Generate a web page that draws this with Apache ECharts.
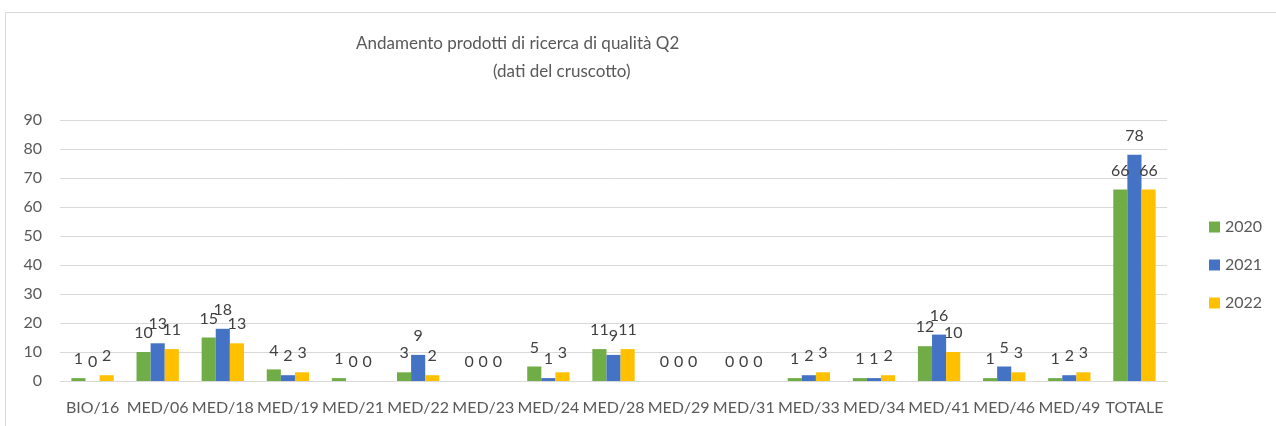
<!DOCTYPE html>
<html>
<head>
<meta charset="utf-8">
<script src="https://cdn.jsdelivr.net/npm/echarts@6/dist/echarts.min.js"></script>
<style>
    html, body { margin: 0; padding: 0; background: #fff; }
    #main { width: 1276px; height: 426px; }
</style>
</head>
<body>
<div id="main"></div>
<script>
var categories = ['BIO/16', 'MED/06', 'MED/18', 'MED/19', 'MED/21', 'MED/22', 'MED/23', 'MED/24', 'MED/28',
    'MED/29', 'MED/31', 'MED/33', 'MED/34', 'MED/41', 'MED/46', 'MED/49', 'TOTALE'];
var years = ['2020', '2021', '2022'];
var values2020 = [1, 10, 15, 4, 1, 3, 0, 5, 11, 0, 0, 1, 1, 12, 1, 1, 66];
var values2021 = [0, 13, 18, 2, 0, 9, 0, 1, 9, 0, 0, 2, 1, 16, 5, 2, 78];
var values2022 = [2, 11, 13, 3, 0, 2, 0, 3, 11, 0, 0, 3, 2, 10, 3, 3, 66];
var colors = ['#70AD47', '#4472C4', '#FFC000'];

var font = 'Lato, "Noto Sans", sans-serif';

var chart = echarts.init(document.getElementById('main'));

//一个系列
function makeSeries(name, data, i) {
    return {
        name: name,
        type: 'bar',
        data: data,
        barGap: 0,
        barCategoryGap: '35%',
        itemStyle: { color: colors[i] },
        label: {
            show: true,
            position: 'top',
            distance: 11,
            color: '#404040',
            fontSize: 16,
            fontFamily: font
        }
    };
}

var option = {
    animation: false,
    textStyle: { fontFamily: font },
    title: [
        {
            text: 'Andamento prodotti di ricerca di qualità Q2',
            left: 351,
            top: 30,
            textStyle: { color: '#595959', fontSize: 17, fontWeight: 'normal', fontFamily: font }
        },
        {
            text: '(dati del cruscotto)',
            left: 488,
            top: 58,
            textStyle: { color: '#595959', fontSize: 17, fontWeight: 'normal', fontFamily: font }
        }
    ],
    legend: {
        orient: 'vertical',
        left: 1204,
        top: 214,
        itemWidth: 11,
        itemHeight: 11,
        itemGap: 22,
        icon: 'rect',
        data: years,
        textStyle: { color: '#595959', fontSize: 16, fontFamily: font }
    },
    grid: {
        left: 60,
        right: 109,
        top: 120,
        bottom: 45,
        containLabel: false
    },
    xAxis: {
        type: 'category',
        data: categories,
        axisLine: { lineStyle: { color: '#d9d9d9', width: 1 } },
        axisTick: { show: false },
        axisLabel: { color: '#595959', fontSize: 16, margin: 19, interval: 0, fontFamily: font }
    },
    yAxis: {
        type: 'value',
        min: 0,
        max: 90,
        interval: 10,
        axisLine: { show: false },
        axisTick: { show: false },
        splitLine: { lineStyle: { color: '#d9d9d9', width: 1 } },
        axisLabel: { color: '#595959', fontSize: 16, margin: 18, fontFamily: font }
    },
    graphic: [
        {
            type: 'rect',
            shape: { x: 5.5, y: 12.5, width: 1400, height: 600 },
            style: { fill: 'none', stroke: '#d9d9d9', lineWidth: 1 },
            silent: true
        }
    ],
    series: [
        makeSeries(years[0], values2020, 0),
        makeSeries(years[1], values2021, 1),
        makeSeries(years[2], values2022, 2)
    ]
};
chart.setOption(option);
</script>
</body>
</html>
